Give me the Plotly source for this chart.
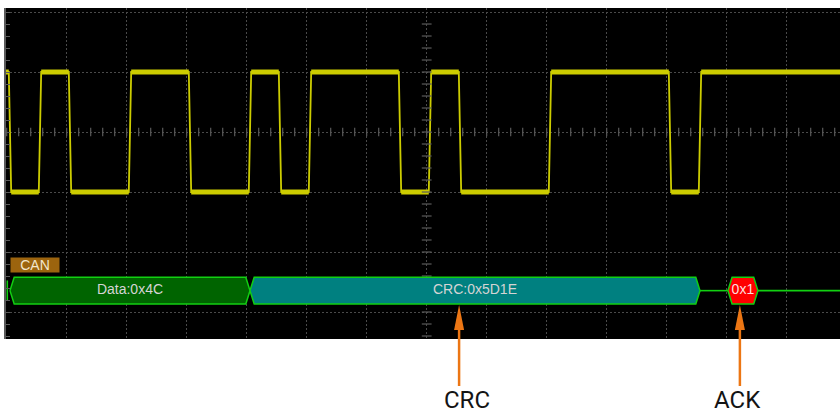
import numpy as np
import plotly.graph_objects as go

# time axis in CAN bit times (one bit = 30 px, one division = 2 bits)
# vertical axis in screen divisions, 0 = centre graticule line
X_MIN, X_MAX = -0.133, 27.667
Y_MIN, Y_MAX = -3.45, 2.067

# CH1 waveform: level before the first edge, then every edge position (bits)
start_level = 1.0
bit_edges = [0, 1, 2, 4, 6, 8, 9, 10, 13, 14, 15, 18, 22, 23]

# decoded CAN fields on the bus line
field_names = ["Data:0x4C", "CRC:0x5D1E", "0x1"]
field_start = [0.0, 8.0, 23.93]
field_end = [8.0, 23.0, 24.93]
field_fill = ["#006400", "#008080", "#ff0000"]
field_text = ["#d4d4d4", "#d4d4d4", "#ffdede"]
bus_level = -2.644

# callouts under the screen
callout_names = ["CRC", "ACK"]
callout_x = [14.97, 24.33]
callout_shift = [8, -2]

YELLOW = "#cccc00"
BUS_GREEN = "#12d012"
GRID = "#4a4a4a"
ORANGE = "#ec7614"

fig = go.Figure()

# build waveform polyline from the edges
EDGE = 0.04
wx, wy = [X_MIN], [start_level]
flat_x, flat_y = [X_MIN], [start_level]
level = start_level
for e in bit_edges:
    wx += [e - EDGE, e + EDGE]
    wy += [level, -level]
    flat_x += [e - EDGE, None, e + EDGE]
    flat_y += [level, None, -level]
    level = -level
wx.append(X_MAX)
wy.append(level)
flat_x.append(X_MAX)
flat_y.append(level)

fig.add_trace(go.Scatter(x=flat_x, y=flat_y, mode="lines",
                         line=dict(color=YELLOW, width=5), hoverinfo="skip"))
fig.add_trace(go.Scatter(x=wx, y=wy, mode="lines",
                         line=dict(color=YELLOW, width=1.8), hoverinfo="skip"))

# graticule ticks along the centre lines
tick_x = np.arange(-0.11, X_MAX, 0.4)
tick_y = np.arange(-3.4, 2.0, 0.2)
fig.add_trace(go.Scatter(x=tick_x, y=np.zeros_like(tick_x), mode="markers",
                         marker=dict(symbol="line-ns", size=6,
                                     line=dict(color="#5a5a5a", width=1.2)),
                         hoverinfo="skip"))
fig.add_trace(go.Scatter(x=np.full_like(tick_y, 13.89), y=tick_y, mode="markers",
                         marker=dict(symbol="line-ew", size=7,
                                     line=dict(color="#5a5a5a", width=1.2)),
                         hoverinfo="skip"))

# bus idle line between / after fields and the left truncation mark
HALF = 0.222
TAPER = 0.14
idle_x = [-0.09, -0.09, None, field_end[1], field_start[2], None, field_end[2], X_MAX]
idle_y = [bus_level - 0.17, bus_level + 0.17, None, bus_level, bus_level, None,
          bus_level, bus_level]
fig.add_trace(go.Scatter(x=idle_x, y=idle_y, mode="lines",
                         line=dict(color=BUS_GREEN, width=1.6), hoverinfo="skip"))

for name, x0, x1, fc, tc in zip(field_names, field_start, field_end, field_fill, field_text):
    hx = [x0, x0 + TAPER, x1 - TAPER, x1, x1 - TAPER, x0 + TAPER, x0]
    hy = [bus_level, bus_level + HALF, bus_level + HALF, bus_level,
          bus_level - HALF, bus_level - HALF, bus_level]
    fig.add_trace(go.Scatter(x=hx, y=hy, mode="lines", fill="toself", fillcolor=fc,
                             line=dict(color=BUS_GREEN, width=1.5), hoverinfo="skip"))
    fig.add_trace(go.Scatter(x=[(x0 + x1) / 2], y=[bus_level], mode="text", text=[name],
                             textfont=dict(family="Liberation Sans, Arial", size=14, color=tc),
                             hoverinfo="skip"))

# bus name tag
fig.add_annotation(x=0.833, y=-2.217, xref="x", yref="y", text="CAN", showarrow=False,
                   bgcolor="#9c640e", width=46, height=12, borderpad=1,
                   font=dict(family="Liberation Sans, Arial", size=14, color="#f2e6cc"))

# callout arrows: tip at bar bottom, long orange head, shaft down to the label
TIP, HEAD_BASE, SHAFT_END = 0.1027, 0.0272, -0.142
HEAD_HALF = 0.167
for name, cx, sh in zip(callout_names, callout_x, callout_shift):
    fig.add_shape(type="line", xref="x", yref="paper", x0=cx, x1=cx,
                  y0=HEAD_BASE + 0.005, y1=SHAFT_END, line=dict(color=ORANGE, width=2.5))
    fig.add_shape(type="path", xref="x", yref="paper",
                  path=f"M {cx},{TIP} L {cx - HEAD_HALF},{HEAD_BASE} L {cx + HEAD_HALF},{HEAD_BASE} Z",
                  fillcolor=ORANGE, line=dict(color=ORANGE, width=0))
    fig.add_annotation(x=cx, y=-0.184, xref="x", yref="paper", text=name, showarrow=False,
                       xshift=sh, yanchor="middle",
                       font=dict(family="Roboto, Liberation Sans", size=24, color="#141414"))

fig.update_layout(
    width=840, height=413,
    margin=dict(l=6, r=0, t=8, b=74),
    paper_bgcolor="white", plot_bgcolor="black",
    showlegend=False,
    xaxis=dict(range=[X_MIN, X_MAX], showgrid=True, gridcolor=GRID, griddash="2px,2px",
               gridwidth=1, tick0=-0.11, dtick=2, showticklabels=False, ticks="",
               zeroline=False, showline=False, fixedrange=True),
    yaxis=dict(range=[Y_MIN, Y_MAX], showgrid=True, gridcolor=GRID, griddash="2px,2px",
               gridwidth=1, tick0=0, dtick=1, showticklabels=False, ticks="inside",
               ticklen=4, tickcolor="#5a5a5a", showline=True, linecolor="#5a5a5a",
               linewidth=1.5, zeroline=False, fixedrange=True,
               minor=dict(tick0=0, dtick=0.2, ticks="inside", ticklen=4,
                          tickcolor="#5a5a5a", showgrid=False)),
)

# page body has an 8px default margin; drop it so the figure sits at 0,0
fig.write_html("out.html", config={"displayModeBar": False},
               post_script="document.body.style.margin='0px';")
